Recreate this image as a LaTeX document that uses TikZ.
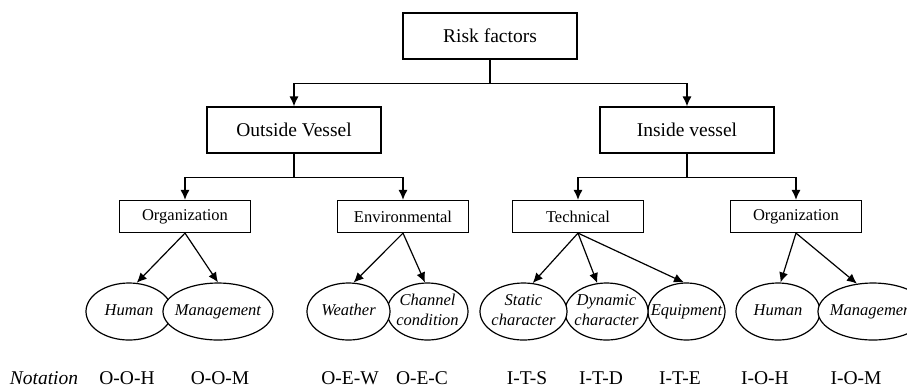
\documentclass[tikz,border=0pt]{standalone}
\usepackage{fontspec}
\setmainfont{Liberation Serif}
\usetikzlibrary{arrows.meta,shapes.geometric}
\newcommand{\lbl}[1]{\makebox[0pt]{\begin{tabular}{@{}c@{}}#1\end{tabular}}}

\begin{document}
\begin{tikzpicture}[x=0.5pt,y=-0.5pt,
    bigbox/.style={draw, line width=0.6pt, minimum width=87pt, minimum height=23pt,
          inner sep=0pt, font=\fontsize{9.75}{11}\selectfont},
    smallbox/.style={draw, line width=0.6pt, minimum width=65.5pt, minimum height=16pt,
          inner sep=0pt, font=\fontsize{8.25}{10}\selectfont},
    leaf/.style={draw, ellipse, fill=white, line width=0.6pt, minimum height=28.5pt,
          inner sep=0pt, font=\fontsize{8.25}{10}\selectfont\itshape},
    arr/.style={line width=0.6pt, -{Latex[length=5pt,width=4.5pt]}},
    code/.style={anchor=base, font=\fontsize{9.75}{11}\selectfont}]
    \clip (0,0) rectangle (907,388);
    \fill[white] (0,0) rectangle (907,388);
    % top levels
    \node[bigbox] (rf) at (490,36) {Risk factors};
    \node[bigbox] (ov) at (294,130) {Outside Vessel};
    \node[bigbox] (iv) at (687,130) {Inside vessel};
    \node[smallbox] (oo) at (185,216.5) {Organization};
    \node[smallbox] (oe) at (403,216.5) {Environmental};
    \node[smallbox] (it) at (578,216.5) {Technical};
    \node[smallbox] (io) at (796,216.5) {Organization};
    % leaves
    \node[leaf, minimum width=43pt] (ooh) at (129,311.5) {\lbl{Human}};
    \node[leaf, minimum width=55pt] (oom) at (218,311.5) {\lbl{Management}};
    \node[leaf, minimum width=40.5pt] (oec) at (427.5,311.5) {\lbl{Channel\\condition}};
    \node[leaf, minimum width=41.5pt] (oew) at (348.5,311.5) {\lbl{Weather}};
    \node[leaf, minimum width=38.5pt] (ite) at (686.5,311.5) {\lbl{Equipment}};
    \node[leaf, minimum width=41.5pt] (itd) at (606.5,311.5) {\lbl{Dynamic\\character}};
    \node[leaf, minimum width=43.5pt] (its) at (523.5,311.5) {\lbl{Static\\character}};
    \node[leaf, minimum width=42pt] (ioh) at (778,311.5) {\lbl{Human}};
    \node[leaf, minimum width=55pt] (iom) at (873,311.5) {\lbl{Management}};
    % tree connectors
    \draw[arr] (rf.south) -- ++(0,24) -| (ov.north);
    \draw[arr] (rf.south) -- ++(0,24) -| (iv.north);
    \draw[arr] (ov.south) -- ++(0,24) -| (oo.north);
    \draw[arr] (ov.south) -- ++(0,24) -| (oe.north);
    \draw[arr] (iv.south) -- ++(0,24) -| (it.north);
    \draw[arr] (iv.south) -- ++(0,24) -| (io.north);
    \draw[arr] (oo.south) -- (ooh.75);
    \draw[arr] (oo.south) -- (oom.north);
    \draw[arr] (oe.south) -- (oew.80);
    \draw[arr] (oe.south) -- (oec.95);
    \draw[arr] (it.south) -- (its.72);
    \draw[arr] (it.south) -- (itd.108);
    \draw[arr] (it.south) -- (ite.95);
    \draw[arr] (io.south) -- (ioh.85);
    \draw[arr] (io.south) -- (iom.120);
    % notation row
    \node[code, font=\fontsize{9.75}{11}\selectfont\itshape] (nt) at (44,384) {Notation};
    \foreach \x/\t [count=\i] in {127/O-O-H, 220/O-O-M, 350/O-E-W, 422/O-E-C,
        527/I-T-S, 601/I-T-D, 680/I-T-E, 765/I-O-H, 856/I-O-M}
      \node[code] (c\i) at (\x,384) {\t};
\end{tikzpicture}
\end{document}
